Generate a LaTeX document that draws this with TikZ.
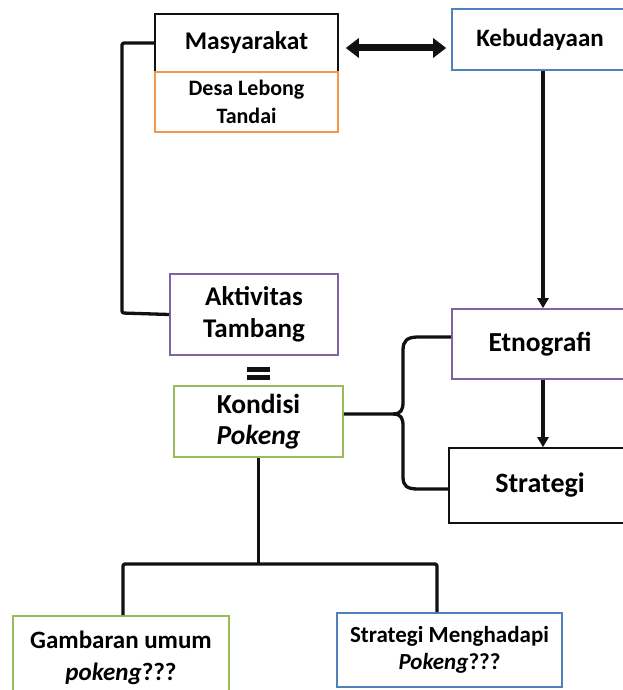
\documentclass[tikz,border=0pt]{standalone}
\usepackage{fontspec}
\setmainfont{Carlito}
\usetikzlibrary{arrows.meta}
\definecolor{orng}{HTML}{F79646}
\definecolor{purp}{HTML}{8064A2}
\definecolor{grn}{HTML}{9BBB59}
\definecolor{blu}{HTML}{4F81BD}
\definecolor{ink}{HTML}{111111}
\newcommand{\myfs}[2]{\fontsize{#1}{#2}\selectfont\bfseries}
\tikzset{
  box/.style={draw, line width=1.6pt, rectangle, inner sep=0pt, align=center, fill=white},
  conn/.style={draw=ink, line width=3.3pt, line join=round},
  arr/.style={conn, -{Triangle[width=11pt,length=10pt]}},
  darr/.style={draw=ink, line width=7pt, {Triangle[width=19pt,length=13pt]}-{Triangle[width=19pt,length=13pt]}}
}
\begin{document}
\begin{tikzpicture}[x=1pt,y=-1pt]
\useasboundingbox (0,0) rectangle (623,690);

% nodes
\node[box, draw=ink, font=\myfs{25.5}{31}, minimum width=183pt, minimum height=58pt] (masy) at (246.5,43) {Masyarakat};
\node[box, draw=orng, font=\myfs{22}{28}, minimum width=183pt, minimum height=60pt] (desa) at (246.5,102) {Desa Lebong\\Tandai};
\node[box, draw=blu, font=\myfs{25}{30}, minimum width=176pt, minimum height=61pt] (keb) at (540,39.5) {Kebudayaan};
\node[box, draw=purp, font=\myfs{27}{32}, minimum width=168pt, minimum height=81pt] (akt) at (254,314.5) {Aktivitas\\Tambang};
\node[box, draw=grn, font=\myfs{27.5}{31}, minimum width=169pt, minimum height=71pt] (kon) at (258.5,421.5) {Kondisi\\\textit{Pokeng}};
\node[box, draw=purp, font=\myfs{27.5}{33}, minimum width=176pt, minimum height=70pt] (etno) at (540,344) {Etnografi};
\node[box, draw=ink, font=\myfs{28}{33}, minimum width=182pt, minimum height=75pt] (strat) at (540,485.5) {Strategi};
\node[box, draw=grn, font=\myfs{25}{32}, minimum width=216pt, minimum height=84pt] (gam) at (121,658) {Gambaran umum\\\textit{pokeng}???};
\node[box, draw=blu, font=\myfs{23}{27}, minimum width=225pt, minimum height=74pt] (sm) at (449.5,650) {Strategi Menghadapi\\\textit{Pokeng}???};

% equals sign
\fill[ink] (247,367) rectangle (270,371.5);
\fill[ink] (247,375) rectangle (270,379.5);

% connectors
\draw[darr] ([xshift=7pt,yshift=-5pt]masy.east) -- ([xshift=-5pt,yshift=-8.5pt]keb.west);
\draw[arr] ([xshift=3pt]keb.south) -- ([xshift=3pt]etno.north);
\draw[arr] ([xshift=3pt]etno.south) -- ([xshift=3pt]strat.north);
\draw[conn, rounded corners=2pt] (masy.west) -| (122,313) -- (akt.west);
\draw[conn] ([yshift=7.5pt]kon.east) -- (393,414)
  .. controls (401,414) and (403,410) .. (403,402) -- (403,350)
  .. controls (403,341) and (407,337) .. (418,337) -- ([yshift=7pt]etno.west);
\draw[conn] (393,414)
  .. controls (401,414) and (403,418) .. (403,426) -- (403,477)
  .. controls (403,486) and (407,489) .. (418,489) -- ([yshift=-3.5pt]strat.west);
\coordinate (j) at (258.5,564);
\draw[conn] (kon.south) -- (j);
\draw[conn, rounded corners=2pt] ([xshift=2pt]gam.north) |- (j) -| ([xshift=-12.5pt]sm.north);
\end{tikzpicture}
\end{document}
